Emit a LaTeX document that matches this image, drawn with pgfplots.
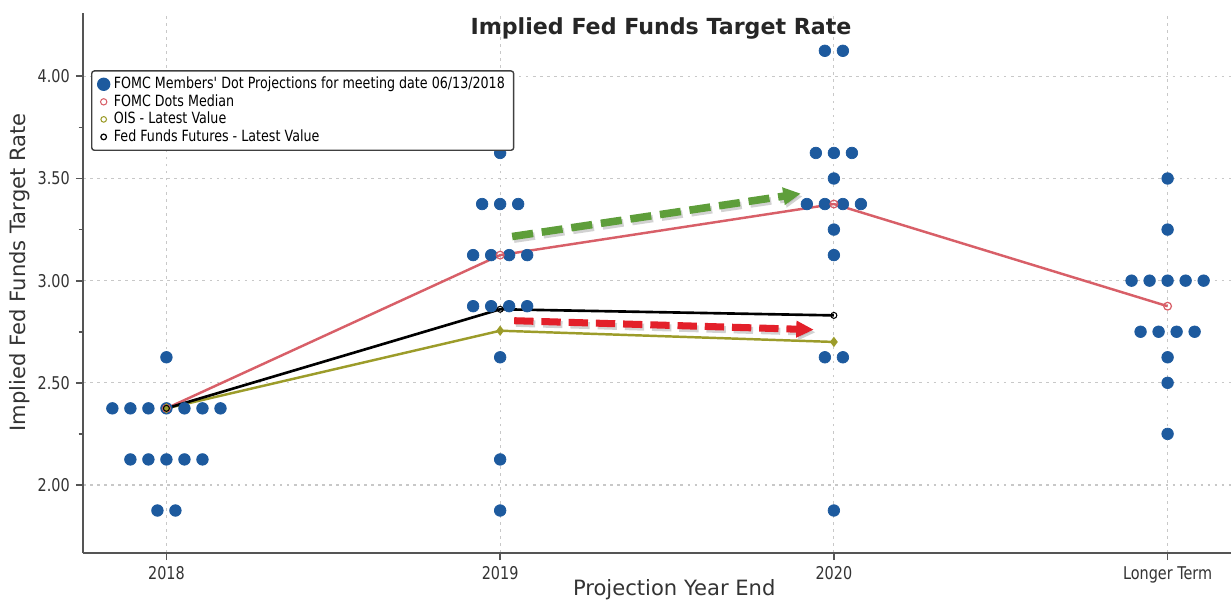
\documentclass[border=0pt]{standalone}
\usepackage{fontspec}
\setmainfont{DejaVu Sans}
\newfontfamily\narrowfont[FakeStretch=0.82]{DejaVu Sans}
\usepackage{pgfplots}
\pgfplotsset{compat=1.18}
\usetikzlibrary{arrows.meta}

\definecolor{dotblue}{HTML}{1D5A9E}
\definecolor{medred}{HTML}{D85F68}
\definecolor{oisolive}{HTML}{9C9C2A}
\definecolor{axisgray}{HTML}{555555}
\definecolor{gridgray}{HTML}{C8C8C8}
\definecolor{arrgreen}{HTML}{5E9E3A}
\definecolor{arrred}{HTML}{E3202A}

\begin{document}
\begin{tikzpicture}
\begin{axis}[
    name=ax,
    scale only axis,
    width=22.96cm, height=10.8cm,
    xmin=-0.25, xmax=3.19,
    ymin=1.667, ymax=4.31,
    axis lines=left,
    axis line style={-, draw=axisgray, line width=1.1pt},
    xtick={0,1,2,3},
    xticklabels={2018,2019,2020,Longer Term},
    ytick={2,2.5,3,3.5,4},
    minor y tick num=1,
    tick align=outside,
    major tick length=4pt, minor tick length=2.5pt,
    tick style={draw=axisgray, line width=1pt},
    yticklabel style={/pgf/number format/.cd, fixed, fixed zerofill, precision=2},
    /pgf/number format/assume math mode=true,
    ticklabel style={font=\narrowfont\fontsize{10}{12}\selectfont, text=black!80},
    grid=major,
    major grid style={draw=gridgray, dash pattern=on 1.5pt off 2.5pt, line width=0.7pt},
    every axis title shift=0pt,
    title={Implied Fed Funds Target Rate},
    title style={font=\bfseries\fontsize{12.6}{14}\selectfont, text=black!85,
        at={(axis description cs:0.5035,0.971)}, anchor=center},
    xlabel={Projection Year End},
    xlabel style={font=\fontsize{12}{14}\selectfont, text=black!80,
        at={(axis description cs:0.515,-0.0685)}, anchor=center},
    ylabel={Implied Fed Funds Target Rate},
    ylabel style={font=\fontsize{12}{14}\selectfont, text=black!80,
        at={(axis description cs:-0.0549,0.52)}, anchor=center},
    legend style={at={(axis description cs:0.007,0.894)}, anchor=north west,
        font=\narrowfont\fontsize{8.8}{9.5}\selectfont,
        draw=black!75, line width=0.8pt, rounded corners=1.5pt,
        inner xsep=3pt, inner ysep=1.5pt, row sep=-2.2pt,
        legend cell align=left},
]

% FOMC members' dots
\addplot[only marks, mark=*, mark size=3.3pt, color=dotblue,
    legend image code/.code={\fill[dotblue] (0.12cm,0cm) circle (3.4pt);}]
coordinates {
    (0,2.625)
    (-0.162,2.375) (-0.108,2.375) (-0.054,2.375) (0,2.375) (0.054,2.375) (0.108,2.375) (0.162,2.375)
    (-0.108,2.125) (-0.054,2.125) (0,2.125) (0.054,2.125) (0.108,2.125)
    (-0.027,1.875) (0.027,1.875)
    (1,3.625)
    (0.946,3.375) (1,3.375) (1.054,3.375)
    (0.919,3.125) (0.973,3.125) (1.027,3.125) (1.081,3.125)
    (0.919,2.875) (0.973,2.875) (1.027,2.875) (1.081,2.875)
    (1,2.625) (1,2.125) (1,1.875)
    (1.973,4.125) (2.027,4.125)
    (1.946,3.625) (2,3.625) (2.054,3.625)
    (2,3.5)
    (1.919,3.375) (1.973,3.375) (2.027,3.375) (2.081,3.375)
    (2,3.25) (2,3.125)
    (1.973,2.625) (2.027,2.625)
    (2,1.875)
    (3,3.5) (3,3.25)
    (2.892,3.0) (2.946,3.0) (3,3.0) (3.054,3.0) (3.108,3.0)
    (2.919,2.75) (2.973,2.75) (3.027,2.75) (3.081,2.75)
    (3,2.625) (3,2.5) (3,2.25)
};
\addlegendentry{FOMC Members' Dot Projections for meeting date 06/13/2018}

% median
\addplot[medred, line width=1.4pt, mark=o, mark size=2.2pt,
    mark options={fill=white, line width=0.7pt},
    legend image code/.code={\draw[medred, line width=0.6pt, fill=white] (0.12cm,0cm) circle (1.8pt);}]
coordinates {(0,2.375) (1,3.125) (2,3.375) (3,2.875)};
\addlegendentry{FOMC Dots Median}

% OIS
\addplot[oisolive, line width=1.4pt, mark=diamond*, mark size=1.8pt,
    mark options={fill=oisolive},
    legend image code/.code={\draw[oisolive, line width=0.6pt, fill=white] (0.12cm,0cm) circle (1.6pt);}]
coordinates {(0,2.375) (1,2.755) (2,2.70)};
\addlegendentry{OIS - Latest Value}

% Fed funds futures
\addplot[black, line width=1.5pt, mark=o, mark size=1.7pt,
    mark options={fill=white, line width=0.6pt},
    legend image code/.code={\draw[black, line width=0.7pt, fill=white] (0.12cm,0cm) circle (1.6pt);}]
coordinates {(0,2.375) (1,2.86) (2,2.83)};
\addlegendentry{Fed Funds Futures - Latest Value}

% annotation arrows
\draw[black!35, opacity=0.5, line width=4.3pt, dash pattern=on 12pt off 5pt,
    -{Triangle[length=10pt,width=9.5pt]}, transform canvas={xshift=1pt,yshift=-1.5pt}]
    (axis cs:1.036,3.216) -- (axis cs:1.901,3.426);
\draw[arrgreen, line width=4.3pt, dash pattern=on 12pt off 5pt,
    -{Triangle[length=10pt,width=9.5pt]}]
    (axis cs:1.036,3.216) -- (axis cs:1.901,3.426);
\draw[black!35, opacity=0.5, line width=4pt, dash pattern=on 11pt off 4.5pt,
    -{Triangle[length=10pt,width=9pt]}, transform canvas={xshift=1pt,yshift=-1.5pt}]
    (axis cs:1.042,2.804) -- (axis cs:1.94,2.76);
\draw[arrred, line width=4pt, dash pattern=on 11pt off 4.5pt,
    -{Triangle[length=10pt,width=9pt]}]
    (axis cs:1.042,2.804) -- (axis cs:1.94,2.76);
\end{axis}
\pgfresetboundingbox
\path[use as bounding box] ([xshift=-1.66cm,yshift=-0.96cm]ax.south west)
    rectangle ([yshift=0.26cm]ax.north east);
\end{tikzpicture}
\end{document}
